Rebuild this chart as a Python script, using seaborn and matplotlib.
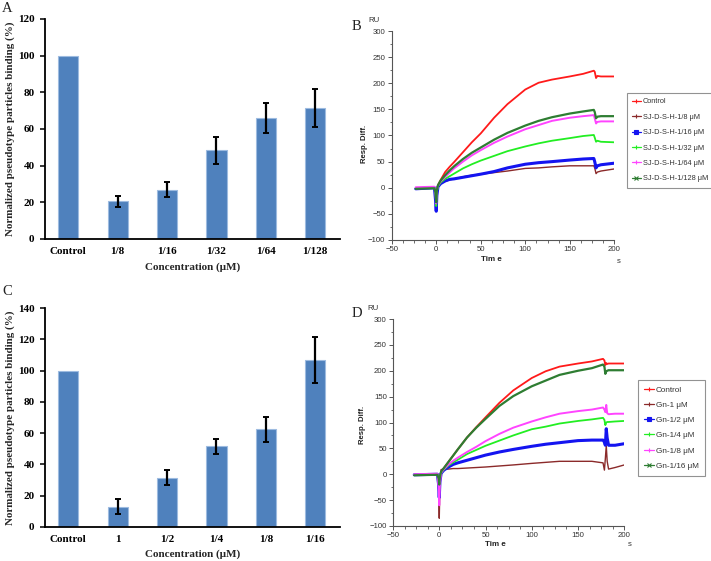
import matplotlib
matplotlib.use("Agg")
import matplotlib.pyplot as plt
from matplotlib.lines import Line2D
from matplotlib.ticker import MultipleLocator
import seaborn as sns

# ---------------- data ----------------
cats_A = ["Control", "1/8", "1/16", "1/32", "1/64", "1/128"]
vals_A = [100, 20.7, 27.0, 48.3, 66.2, 71.6]
err_A = [0, 3.0, 3.9, 7.5, 8.2, 10.3]

cats_C = ["Control", "1", "1/2", "1/4", "1/8", "1/16"]
vals_C = [100, 13.0, 31.6, 51.5, 62.4, 107.0]
err_C = [0, 5.0, 4.9, 4.9, 7.8, 14.7]

t_B = [-23, -2, -0.7, 0, 0.7, 2, 5, 10, 15, 20, 30, 40, 50, 65, 80, 100, 115,
       130, 150, 165, 177, 178, 179.5, 181, 185, 200]
b_control = [-1, 0, -10, -22, -6, 5, 15, 30, 40, 49, 68, 87, 104, 134, 160, 188,
             201, 207, 213, 218, 224, 222, 210, 214, 213, 213]
b_1_8 = [-1, 0, -12, -30, -8, 2, 8, 12, 15, 17, 21, 24, 26, 29, 32, 37, 38, 40,
         42, 42, 42, 38, 27, 30, 32, 36]
b_1_16 = [-2, 0, -25, -45, -15, 2, 8, 13, 16, 17, 20, 23, 26, 31, 38, 45, 48, 50,
          53, 55, 56, 50, 38, 42, 44, 47]
b_1_32 = [-1, 0, -15, -35, -8, 3, 10, 17, 22, 27, 37, 45, 52, 61, 70, 79, 85, 90,
          95, 99, 101, 96, 88, 90, 88, 87]
b_1_64 = [1, 2, -12, -30, -6, 4, 12, 21, 29, 37, 50, 62, 72, 86, 98, 112, 120,
          128, 134, 137, 139, 133, 123, 126, 127, 127]
b_1_128 = [-2, -1, -10, -28, -5, 5, 14, 24, 33, 41, 55, 67, 77, 92, 105, 119,
           128, 135, 142, 146, 149, 145, 133, 136, 137, 137]
labels_B = ["Control", "SJ-D-S-H-1/8 μM", "SJ-D-S-H-1/16 μM", "SJ-D-S-H-1/32 μM",
            "SJ-D-S-H-1/64 μM", "SJ-D-S-H-1/128 μM"]

t_D = [-27, -2, -0.7, 0, 0.7, 2, 5, 10, 15, 20, 30, 40, 50, 65, 80, 100, 115,
       130, 150, 165, 177, 178.5, 179.5, 180.5, 181.5, 183, 190, 200]
d_control = [-1, 0, -8, -20, -5, 5, 12, 24, 36, 48, 71, 91, 110, 138, 162, 186,
             199, 208, 214, 218, 223, 220, 211, 215, 213, 214, 214, 214]
d_1 = [-1, 0, -30, -85, -20, 9, 10, 10, 11, 11, 12, 13, 14, 16, 18, 21, 23, 25,
       25, 25, 22, 8, 30, 55, 25, 10, 13, 18]
d_1_2 = [-1, 0, -20, -45, -15, 2, 8, 14, 19, 22, 27, 32, 37, 43, 48, 54, 58, 61,
         65, 66, 66, 62, 56, 88, 70, 56, 56, 59]
d_1_4 = [-1, 0, -15, -30, -10, 3, 9, 17, 23, 28, 39, 47, 55, 65, 75, 87, 92, 98,
         103, 106, 109, 105, 95, 100, 101, 101, 102, 103]
d_1_8 = [0, 1, -25, -60, -20, 3, 10, 19, 26, 32, 43, 53, 64, 78, 90, 102, 110,
         117, 122, 125, 129, 125, 120, 134, 118, 116, 117, 117]
d_1_16 = [-2, -1, -8, -20, -5, 5, 12, 24, 36, 48, 71, 90, 107, 132, 151, 170,
          181, 192, 200, 205, 212, 208, 194, 199, 200, 201, 201, 201]
labels_D = ["Control", "Gn-1 μM", "Gn-1/2 μM", "Gn-1/4 μM", "Gn-1/8 μM",
            "Gn-1/16 μM"]

# ---------------- style ----------------
sns.set_style("ticks")
plt.rcParams["font.family"] = ["Liberation Serif", "DejaVu Serif"]

W, H = 711, 561
fig = plt.figure(figsize=(W / 100, H / 100), dpi=100)

BAR = "#4F81BD"
serif = ["Liberation Serif", "DejaVu Serif"]
sans = ["Liberation Sans", "DejaVu Sans"]


def ax_px(l, r, t, b):
    return fig.add_axes([l / W, 1 - b / H, (r - l) / W, (b - t) / H])


def bar_panel(ax, cats, vals, errs, ymax, xlab_y):
    sns.barplot(x=cats, y=vals, color=BAR, saturation=1, width=0.41,
                edgecolor="#9DBBE0", linewidth=0.8, errorbar=None, ax=ax)
    idx = list(range(1, len(cats)))
    ax.errorbar(idx, [vals[i] for i in idx], yerr=[errs[i] for i in idx],
                fmt="none", ecolor="black", elinewidth=1.6, capsize=2.5,
                capthick=1.4, zorder=5)
    ax.set_ylim(0, ymax)
    ax.set_yticks(range(0, ymax + 1, 20))
    ax.set_xlim(-0.47, 5.5)
    sns.despine(ax=ax)
    for s in ("left", "bottom"):
        ax.spines[s].set_linewidth(1.3)
        ax.spines[s].set_color("black")
    ax.tick_params(axis="x", length=0, pad=6)
    ax.tick_params(axis="y", direction="out", length=3.5, width=1.3, pad=4)
    for lab in ax.get_xticklabels() + ax.get_yticklabels():
        lab.set_fontfamily(serif)
        lab.set_fontweight("bold")
        lab.set_fontsize(8)
        lab.set_color("black")
    ax.set_ylabel("Normalized pseudotype particles binding (%)",
                  fontfamily=serif, fontweight="bold", fontsize=7.9)
    ax.yaxis.set_label_coords(-0.103, 0.5)
    ax.set_xlabel("Concentration (μM)", fontfamily=serif, fontweight="bold",
                  fontsize=8)
    ax.xaxis.set_label_coords(0.5, xlab_y)


def spr_panel(ax, t, series, labels, colors, widths, markers, leg_anchor,
              leg_size, leg_spacing, ru_xy, ylab_xy, time_xy, s_xy):
    for v, c, lw in zip(series, colors, widths):
        sns.lineplot(x=t, y=v, color=c, linewidth=lw, estimator=None,
                     sort=False, ax=ax, legend=False)
    ax.set_xlim(-50, 200)
    ax.set_ylim(-100, 300)
    ax.xaxis.set_major_locator(MultipleLocator(50))
    ax.yaxis.set_major_locator(MultipleLocator(50))
    ax.xaxis.set_minor_locator(MultipleLocator(12.5))
    ax.yaxis.set_minor_locator(MultipleLocator(25))
    ax.set_xlabel("")
    ax.set_ylabel("")
    sns.despine(ax=ax)
    for s in ("left", "bottom"):
        ax.spines[s].set_linewidth(0.8)
        ax.spines[s].set_color("#555555")
    ax.tick_params(which="major", direction="out", length=3, width=0.7,
                   color="#555555", labelsize=5.6, labelcolor="#333333", pad=1.5)
    ax.tick_params(which="minor", direction="out", length=1.8, width=0.6,
                   color="#555555")
    for lab in ax.get_xticklabels() + ax.get_yticklabels():
        lab.set_fontfamily(sans)
    handles = [Line2D([0], [0], color=c, lw=0.9, marker=m, markersize=2.6,
                      markeredgewidth=0.8)
               for c, m in zip(colors, markers)]
    leg = ax.legend(handles, labels, loc="upper left", bbox_to_anchor=leg_anchor,
                    frameon=True, fancybox=False, shadow=False,
                    prop={"family": sans, "size": leg_size}, handlelength=1.2,
                    handletextpad=0.3, labelspacing=leg_spacing, borderpad=0.7,
                    borderaxespad=0)
    leg.get_frame().set_edgecolor("#777777")
    leg.get_frame().set_linewidth(0.8)
    for txt in leg.get_texts():
        txt.set_color("#333333")
    fig.text(ru_xy[0] / W, 1 - ru_xy[1] / H, "RU", ha="center", va="center",
             fontfamily=sans, fontsize=5.6, color="#333333")
    fig.text(ylab_xy[0] / W, 1 - ylab_xy[1] / H, "Resp. Diff.", ha="center",
             va="center", rotation=90, fontfamily=sans, fontsize=5.6,
             fontweight="bold", color="#222222")
    fig.text(time_xy[0] / W, 1 - time_xy[1] / H, "Tim e", ha="center",
             va="center", fontfamily=sans, fontsize=5.8, fontweight="bold",
             color="#222222")
    fig.text(s_xy[0] / W, 1 - s_xy[1] / H, "s", ha="center", va="center",
             fontfamily=sans, fontsize=5.6, color="#333333")


# ---------------- panels ----------------
axA = ax_px(45, 340, 19, 239)
bar_panel(axA, cats_A, vals_A, err_A, 120, -0.108)

axC = ax_px(45, 340, 308, 527)
bar_panel(axC, cats_C, vals_C, err_C, 140, -0.104)

colors = ["#FF1A1A", "#8B2A2A", "#1414F0", "#22EE22", "#FF44FF", "#2E7D32"]
widths = [1.3, 1.0, 2.2, 1.3, 1.4, 1.6]
markers = ["+", "+", "s", "+", "+", "x"]

axB = ax_px(391.7, 614.3, 31, 240)
spr_panel(axB, t_B, [b_control, b_1_8, b_1_16, b_1_32, b_1_64, b_1_128],
          labels_B, colors, widths, markers, (1.056, 0.703), 5.3, 1.12,
          (374, 20), (364.5, 144), (491, 260), (619, 261))

axD = ax_px(393, 624.3, 319, 526)
spr_panel(axD, t_D, [d_control, d_1, d_1_2, d_1_4, d_1_8, d_1_16],
          labels_D, colors, widths, markers, (1.059, 0.705), 5.9, 0.92,
          (373, 308.5), (362, 425), (495, 545), (630, 545))

# panel letters
for x, y, s in [(2, 12, "A"), (352, 30, "B"), (2, 295, "C"), (352, 317, "D")]:
    fig.text(x / W, 1 - y / H, s, ha="left", va="baseline", fontfamily=serif,
             fontsize=10.5, color="#222222")

fig.savefig("out.png", dpi=100)
